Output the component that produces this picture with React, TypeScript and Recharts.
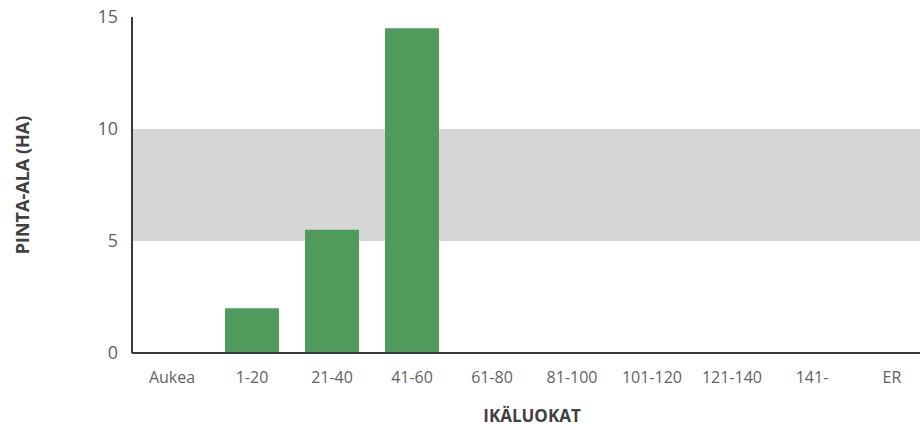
import React from 'react';
import { BarChart, Bar, XAxis, YAxis, ReferenceArea } from 'recharts';

const ageClasses = ['Aukea', '1-20', '21-40', '41-60', '61-80', '81-100', '101-120', '121-140', '141-', 'ER'];
const areaHa = [0, 2, 5.5, 14.5, 0, 0, 0, 0, 0, 0];
const yTicks = [0, 5, 10, 15];
const targetBand = [5, 10];

const data = ageClasses.map((name, i) => ({ name, area: areaHa[i] }));

const AXIS_COLOR = '#3a3a3a';
const TICK_COLOR = '#626262';
const FONT = '"Open Sans", sans-serif';

const YTitle = (props: any) => {
  const vb = props.viewBox || { x: 0, y: 0, width: 0, height: 0 };
  const x = vb.x + 22;
  const y = vb.y + vb.height / 2;
  return (
    <text
      x={x}
      y={y}
      transform={`rotate(-90, ${x}, ${y})`}
      textAnchor="middle"
      dominantBaseline="central"
      fill="#404040"
      fontWeight="bold"
      fontSize={18}
      fontFamily={FONT}
    >
      PINTA-ALA (HA)
    </text>
  );
};

export default function App() {
  return (
    <div style={{ position: 'fixed', left: 0, top: 0, width: 920, height: 430, overflow: 'hidden', background: '#fff' }}>
      <BarChart width={932} height={430} data={data} margin={{ top: 17, right: 0, bottom: 0, left: 0 }} barSize={54}>
        <ReferenceArea y1={targetBand[0]} y2={targetBand[1]} fill="#d6d6d6" fillOpacity={1} stroke="none" />
        <XAxis
          dataKey="name"
          height={77}
          stroke={AXIS_COLOR}
          strokeWidth={2}
          tickLine={false}
          tickSize={0}
          tickMargin={19}
          tick={{ fill: TICK_COLOR, fontSize: 16, fontFamily: FONT }}
          interval={0}
          label={{ value: 'IKÄLUOKAT', position: 'insideBottom', offset: 8, fill: '#404040', fontSize: 17, fontWeight: 'bold', fontFamily: FONT }}
        />
        <YAxis
          width={132}
          domain={[0, 15]}
          ticks={yTicks}
          stroke={AXIS_COLOR}
          strokeWidth={2}
          tickLine={false}
          tickSize={0}
          tickMargin={14}
          tick={{ fill: TICK_COLOR, fontSize: 18, fontFamily: FONT }}
          label={{ content: YTitle }}
        />
        <Bar dataKey="area" fill="#4e9b5c" isAnimationActive={false} />
      </BarChart>
    </div>
  );
}
